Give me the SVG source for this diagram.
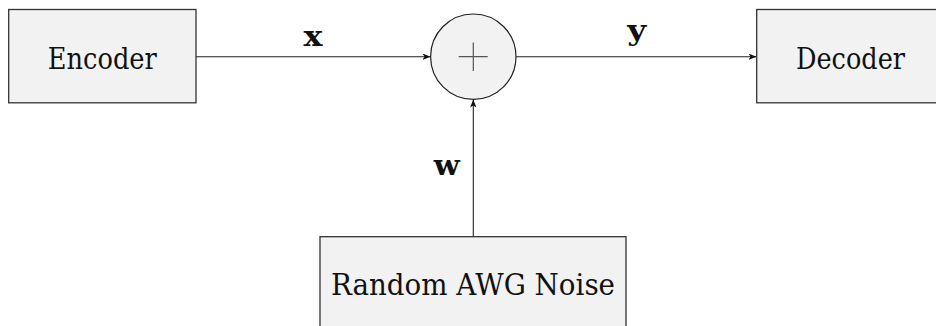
<svg xmlns="http://www.w3.org/2000/svg" width="936" height="326" viewBox="0 0 936 326">
<defs>
<style>
.box{fill:#f2f2f2;stroke:#333;stroke-width:1.3}
.lbl{font-family:'DejaVu Serif',serif;font-size:30px;fill:#111;text-anchor:middle}
.var{font-family:'DejaVu Serif',serif;font-size:27px;font-weight:bold;fill:#111;text-anchor:middle}
.wire{stroke:#222;stroke-width:1.1;fill:none;marker-end:url(#ah)}
</style>
<marker id="ah" viewBox="0 0 10 8" refX="10" refY="4" markerWidth="8" markerHeight="6.4" markerUnits="userSpaceOnUse" orient="auto">
<path d="M0,0 L10,4 L0,8 L2.5,4 Z" fill="#111"/>
</marker>
</defs>
<rect width="936" height="326" fill="#fff"/>
<g id="connectors">
<line class="wire" x1="196" y1="56.7" x2="430.5" y2="56.7"/>
<line class="wire" x1="516" y1="56.7" x2="756.5" y2="56.7"/>
<line class="wire" x1="473.3" y1="236.7" x2="473.3" y2="99.5"/>
<text class="var" x="313" y="46" textLength="19" lengthAdjust="spacingAndGlyphs">x</text>
<text class="var" x="636.7" y="40" textLength="19" lengthAdjust="spacingAndGlyphs">y</text>
<text class="var" x="446.7" y="175" textLength="26" lengthAdjust="spacingAndGlyphs">w</text>
</g>
<g id="encoder">
<rect class="box" x="8.7" y="9.5" width="187.3" height="93.3"/>
<text class="lbl" x="102.3" y="68.5" textLength="109" lengthAdjust="spacingAndGlyphs">Encoder</text>
</g>
<g id="adder">
<circle cx="473.3" cy="56.7" r="42.7" fill="#f2f2f2" stroke="#222" stroke-width="1.2"/>
<path d="M458.7,56.7 H487.7 M473.3,42.5 V71" stroke="#555" stroke-width="1.2" fill="none"/>
</g>
<g id="decoder">
<rect class="box" x="756.7" y="9.5" width="187.3" height="93.3"/>
<text class="lbl" x="850.5" y="68.5" textLength="109" lengthAdjust="spacingAndGlyphs">Decoder</text>
</g>
<g id="noise">
<rect class="box" x="320" y="236.7" width="306" height="93.3"/>
<text class="lbl" x="473" y="295" textLength="284" lengthAdjust="spacingAndGlyphs">Random AWG Noise</text>
</g>
</svg>
